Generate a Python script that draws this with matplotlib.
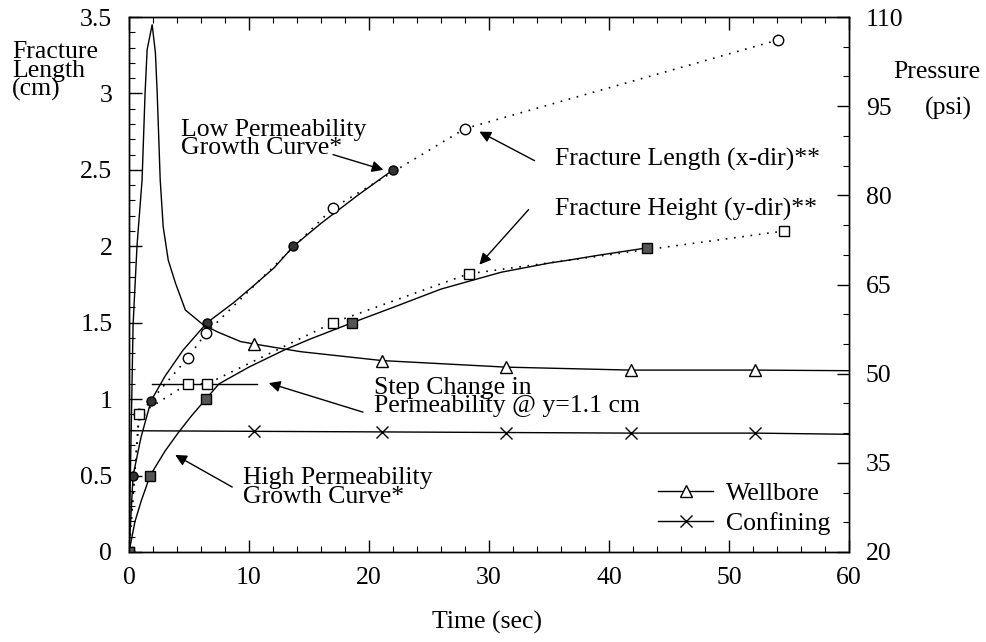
import matplotlib.pyplot as plt
from matplotlib.ticker import MultipleLocator, FixedLocator

plt.rcParams['font.family'] = 'Liberation Serif'
plt.rcParams['font.size'] = 18.5

# low permeability growth curve (solid, filled circles)
t_low = [0, 0.34, 1.0, 1.84, 3.0, 4.5, 6.5, 8.7, 10.5, 12.1, 13.7, 16.0, 19.0, 22.0]
y_low = [0, 0.50, 0.75, 0.99, 1.15, 1.32, 1.50, 1.63, 1.75, 1.86, 2.00, 2.15, 2.33, 2.50]
t_low_mk = [0.34, 1.84, 6.5, 13.7, 22.0]
y_low_mk = [0.50, 0.99, 1.50, 2.00, 2.50]

# high permeability growth curve (solid, filled squares)
t_high = [0, 0.5, 1.0, 1.76, 3.0, 4.1, 5.2, 6.4, 7.5, 10.0, 12.9, 15.0, 18.6, 22.0, 26.0, 31.0, 35.0, 36.7, 39.0, 43.2]
y_high = [0, 0.20, 0.33, 0.50, 0.66, 0.78, 0.89, 1.00, 1.10, 1.21, 1.32, 1.39, 1.50, 1.60, 1.72, 1.83, 1.89, 1.91, 1.94, 1.99]
t_high_mk = [0, 1.76, 6.4, 18.6, 43.2]
y_high_mk = [0, 0.50, 1.00, 1.50, 1.99]

# measured fracture length (x-dir) and height (y-dir)
t_len = [0, 0.84, 4.9, 6.4, 17.0, 28.0, 54.1]
y_len = [0, 0.90, 1.27, 1.43, 2.25, 2.77, 3.35]
t_hgt = [0, 0.84, 4.9, 6.5, 17.0, 28.3, 54.6]
y_hgt = [0, 0.90, 1.10, 1.10, 1.50, 1.82, 2.10]

# step change in permeability
t_step = [1.9, 10.7]
y_step = [1.1, 1.1]

# pressures (psi)
t_well = [0, 0.34, 0.67, 1.09, 1.34, 1.51, 1.93, 2.2, 2.35, 2.6, 2.85, 3.27, 3.86, 4.7, 6.2, 7.4, 9.3, 10.4, 14.3, 21.1, 31.4, 41.8, 52.2, 60]
p_well = [20, 58.2, 71.6, 82.6, 97.2, 104.5, 108.7, 104, 97.2, 82.6, 74.7, 69.1, 65.3, 60.7, 58.2, 57.0, 55.4, 55.0, 53.7, 52.2, 51.1, 50.6, 50.6, 50.5]
t_conf = [0, 10.4, 21.1, 31.4, 41.8, 52.2, 60]
p_conf = [40.4, 40.3, 40.2, 40.1, 40.0, 40.0, 39.8]
t_p_mk = [10.4, 21.1, 31.4, 41.8, 52.2]
p_well_mk = [55.0, 52.2, 51.1, 50.6, 50.6]
p_conf_mk = [40.3, 40.2, 40.1, 40.0, 40.0]

p_ticks = [20, 35, 50, 65, 80, 95, 110]

fig = plt.figure(figsize=(9.87, 6.42), dpi=100)
ax = fig.add_axes([129 / 987, 90 / 642, 720 / 987, 535 / 642])
ax2 = ax.twinx()

ax.plot(t_low, y_low, color='black', lw=1.0)
ax.plot(t_low_mk, y_low_mk, ls='none', marker='o', ms=6.5, mfc='#333333', mec='black', zorder=5)
ax.plot(t_high, y_high, color='black', lw=1.0)
ax.plot(t_high_mk, y_high_mk, ls='none', marker='s', ms=7, mfc='#555555', mec='black', zorder=5)
ax.plot(t_len, y_len, color='black', lw=1.2, ls=(0, (1, 4)), marker='o', ms=7.5, mfc='white', mec='black', zorder=4)
ax.plot(t_hgt, y_hgt, color='black', lw=1.2, ls=(0, (1, 4)), marker='s', ms=7.5, mfc='white', mec='black', zorder=4)
ax.plot(t_step, y_step, color='black', lw=1.0)

ax2.plot(t_well, p_well, color='black', lw=1.0)
ax2.plot(t_p_mk, p_well_mk, ls='none', marker='^', ms=8, mfc='white', mec='black')
ax2.plot(t_conf, p_conf, color='black', lw=1.0)
ax2.plot(t_p_mk, p_conf_mk, ls='none', marker='x', ms=8.5, mec='black', mew=1.0)

# legend entries for the pressure curves
h1, = ax2.plot([], [], color='black', lw=1.0, marker='^', ms=8, mfc='white', mec='black')
h2, = ax2.plot([], [], color='black', lw=1.0, marker='x', ms=8.5, mew=1.0)
ax2.legend([h1, h2], ['Wellbore', 'Confining'], loc='upper left', frameon=False,
           bbox_to_anchor=(658 / 987, 1 - 482 / 642), bbox_transform=fig.transFigure,
           borderaxespad=0, borderpad=0, handlelength=2.15, handletextpad=0.5,
           labelspacing=0.28, numpoints=1)

ax.set_xlim(0, 60)
ax.set_ylim(0, 3.5)
ax2.set_ylim(20, 110)
ax.xaxis.set_major_locator(MultipleLocator(10))
ax.xaxis.set_minor_locator(MultipleLocator(2))
ax.yaxis.set_minor_locator(MultipleLocator(0.1))
ax.set_yticks([0, 0.5, 1, 1.5, 2, 2.5, 3, 3.5])
ax.set_yticklabels(['0', '0.5', '1', '1.5', '2', '2.5', '3', '3.5'])
ax2.yaxis.set_major_locator(FixedLocator(p_ticks))
ax2.yaxis.set_minor_locator(MultipleLocator(5))

ax.tick_params(which='both', direction='in', top=True, right=False)
ax.tick_params(which='major', length=9, width=1)
ax.tick_params(which='minor', length=4.5, width=0.8)
ax.tick_params(axis='x', pad=11)
ax.tick_params(axis='y', pad=12)
ax2.tick_params(which='both', direction='in', pad=12)
ax2.tick_params(which='major', length=9, width=1)
ax2.tick_params(which='minor', length=4.5, width=0.8)
for a in (ax, ax2):
    for s in a.spines.values():
        s.set_linewidth(1.0)

arrow = dict(arrowstyle='-|>', color='black', lw=1.0, mutation_scale=17, shrinkA=0, shrinkB=0)
ax.text(4.36, 2.70, 'Low Permeability\nGrowth Curve*', ha='left', va='center', linespacing=0.78)
ax.annotate('', xy=(21.2, 2.50), xytext=(17.0, 2.60), arrowprops=arrow)
ax.annotate('', xy=(29.2, 2.75), xytext=(33.8, 2.56), arrowprops=arrow)
ax.text(35.5, 2.565, 'Fracture Length (x-dir)**', ha='left', va='center')
ax.annotate('', xy=(29.2, 1.88), xytext=(33.3, 2.24), arrowprops=arrow)
ax.text(35.5, 2.24, 'Fracture Height (y-dir)**', ha='left', va='center')
ax.annotate('', xy=(11.65, 1.105), xytext=(19.5, 0.915), arrowprops=arrow)
ax.text(20.4, 1.016, 'Step Change in\nPermeability @ y=1.1 cm', ha='left', va='center', linespacing=0.78)
ax.annotate('', xy=(3.85, 0.635), xytext=(8.6, 0.425), arrowprops=arrow)
ax.text(9.47, 0.422, 'High Permeability\nGrowth Curve*', ha='left', va='center', linespacing=0.78)

fig.text(12 / 987, 1 - 71 / 642, 'Fracture\nLength\n(cm)', ha='left', va='center', linespacing=0.78)
fig.text(893 / 987, 1 - 72 / 642, 'Pressure', ha='left', va='center')
fig.text(925 / 987, 1 - 108 / 642, '(psi)', ha='left', va='center')
fig.text(487 / 987, 1 - 622 / 642, 'Time (sec)', ha='center', va='center')

fig.savefig('out.png', dpi=100)
